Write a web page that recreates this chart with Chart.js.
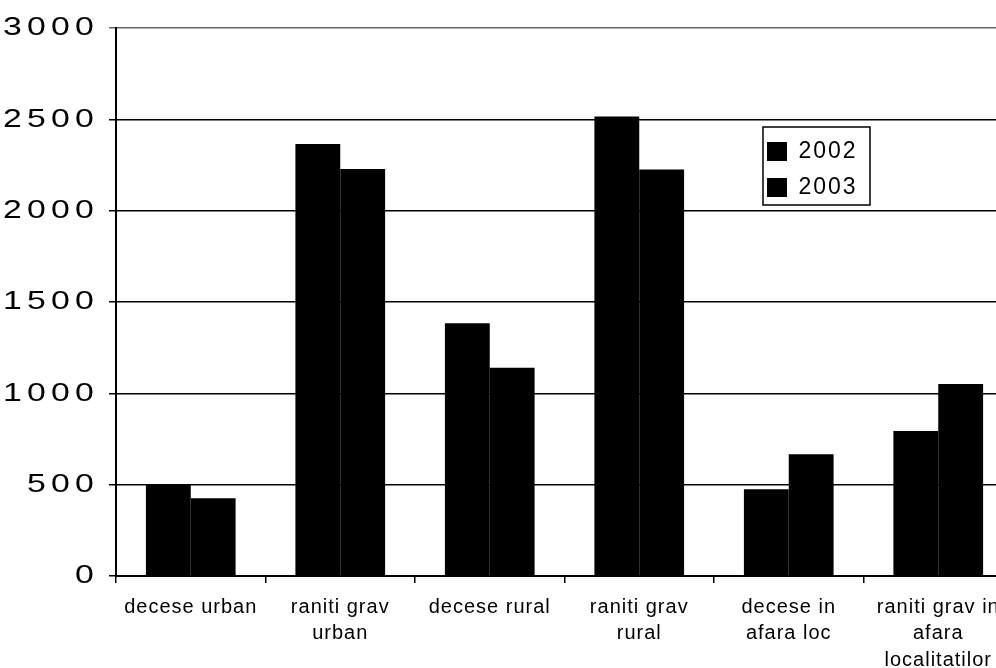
<!DOCTYPE html>
<html>
<head>
<meta charset="utf-8">
<script src="https://cdn.jsdelivr.net/npm/chart.js@4/dist/chart.umd.min.js"></script>
<style>
  html, body { margin: 0; padding: 0; background: #fff; overflow: hidden; }
  #wrap { width: 996px; height: 668px; overflow: hidden; }
</style>
</head>
<body>
<div id="wrap"><canvas id="chart" width="1016" height="668"></canvas></div>
<script>
// categories (multi-line labels as in the source)
const categories = [
  ["decese urban"],
  ["raniti grav", "urban"],
  ["decese rural"],
  ["raniti grav", "rural"],
  ["decese in", "afara loc"],
  ["raniti grav in", "afara", "localitatilor"]
];
const seriesNames = ["2002", "2003"];
const values2002 = [500, 2365, 1383, 2515, 475, 794];
const values2003 = [425, 2228, 1140, 2225, 666, 1051];
const yTicks = [0, 500, 1000, 1500, 2000, 2500, 3000];

const Y_PAD = 10;

// wraps a draw method: extra letter spacing, optional horizontal stretch around x0
function withText(chart, obj, fn, sp, stretch, x0) {
  if (!obj || obj["_sp_" + fn]) return;
  const orig = obj[fn].bind(obj);
  obj[fn] = function (...args) {
    const c = chart.ctx;
    c.save();
    c.letterSpacing = sp;
    if (stretch) {
      const ax = x0();
      c.translate(ax, 0);
      c.scale(stretch, 1);
      c.translate(-ax, 0);
    }
    orig(...args);
    c.restore();
  };
  obj["_sp_" + fn] = true;
}

const layoutTweaks = {
  id: "layoutTweaks",
  afterLayout(chart) {
    // move the legend into the plot, upper right
    const lg = chart.legend;
    const a = chart.chartArea;
    lg.left = a.left + 638;
    lg.top = a.top + 99;
    lg.width = 130;
    lg.height = 100;
    lg.right = lg.left + lg.width;
    lg.bottom = lg.top + lg.height;
  },
  afterUpdate(chart) {
    const ys = chart.scales.y;
    withText(chart, chart.scales.x, "drawLabels", "1px");
    withText(chart, ys, "drawLabels", "4px", 1.3, () => ys.right - 7 - Y_PAD);
    withText(chart, chart.legend, "draw", "2px");
  },
  afterDraw(chart) {
    const lg = chart.legend;
    const c = chart.ctx;
    c.save();
    c.strokeStyle = "#000";
    c.lineWidth = 1.5;
    c.strokeRect(lg.left + 9, lg.top, 107, 78);
    c.restore();
  }
};

new Chart(document.getElementById("chart"), {
  type: "bar",
  data: {
    labels: categories,
    datasets: [
      {
        label: seriesNames[0],
        data: values2002,
        backgroundColor: "#000",
        borderWidth: 0,
        categoryPercentage: 0.6,
        barPercentage: 1.0
      },
      {
        label: seriesNames[1],
        data: values2003,
        backgroundColor: "#000",
        borderWidth: 0,
        categoryPercentage: 0.6,
        barPercentage: 1.0
      }
    ]
  },
  options: {
    responsive: false,
    animation: false,
    devicePixelRatio: 1,
    layout: { padding: { left: 0, top: 28, right: 3, bottom: 0 } },
    plugins: {
      tooltip: { enabled: false },
      legend: {
        position: "chartArea",
        align: "start",
        labels: {
          boxWidth: 20,
          boxHeight: 19,
          padding: 13,
          color: "#000",
          font: { family: "'Liberation Sans', Arial, sans-serif", size: 23 }
        }
      }
    },
    scales: {
      x: {
        grid: {
          display: true,
          drawOnChartArea: false,
          offset: true,
          tickLength: 7,
          color: "#000",
          lineWidth: 1.5
        },
        border: { display: true, color: "#000", width: 2 },
        ticks: {
          color: "#000",
          maxRotation: 0,
          autoSkip: false,
          padding: 11,
          font: { family: "'Liberation Sans', Arial, sans-serif", size: 20, lineHeight: 1.325 }
        },
        afterFit(scale) { scale.height = 92; }
      },
      y: {
        min: 0,
        max: 3000,
        afterBuildTicks(scale) { scale.ticks = yTicks.map(v => ({ value: v })); },
        grid: {
          color: ctx => (ctx.tick && ctx.tick.value === 3000 ? "#666" : "#000"),
          lineWidth: 1.5,
          tickLength: 7
        },
        border: { display: true, color: "#000", width: 2 },
        ticks: {
          color: "#000",
          padding: Y_PAD,
          callback: v => String(v),
          font: { family: "'Liberation Sans', Arial, sans-serif", size: 26 }
        },
        afterFit(scale) { scale.width = 116; }
      }
    }
  },
  plugins: [layoutTweaks]
});
</script>
</body>
</html>
